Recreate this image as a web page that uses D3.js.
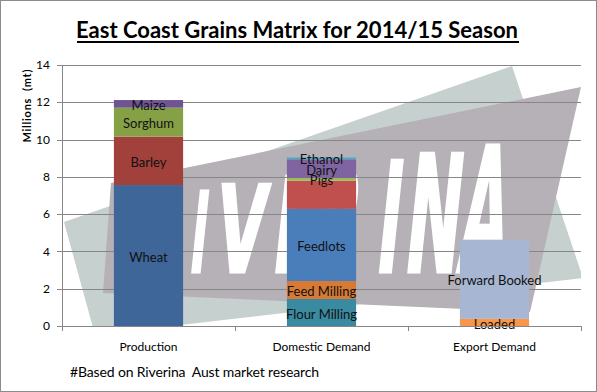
<!DOCTYPE html>
<html>
<head>
<meta charset="utf-8">
<script src="https://cdn.jsdelivr.net/npm/d3@7"></script>
<style>
  body { margin: 0; background: #fff; }
  text { font-family: Lato, 'Open Sans', sans-serif; }
</style>
</head>
<body>
<div id="chart"></div>
<script>
// Categories and stacked segments (Millions mt)
const categories = ['Production', 'Domestic Demand', 'Export Demand'];

const productionNames = ['Wheat', 'Barley', 'Sorghum', 'Maize'];
const productionValues = [7.56, 2.6, 1.55, 0.41];
const productionColors = ['#3F6699', '#A2403C', '#86A046', '#6E5491'];

const domesticNames = ['Flour Milling', 'Feed Milling', 'Feedlots', 'Poultry', 'Pigs', 'Dairy', 'Ethanol'];
const domesticLabels = ['Flour Milling', 'Feed Milling', 'Feedlots', '', 'Pigs', 'Dairy', 'Ethanol'];
const domesticValues = [1.45, 0.96, 3.87, 1.52, 0.14, 1.0, 0.1];
const domesticColors = ['#3A8AA2', '#D87A34', '#4A7EBB', '#C0504D', '#9BBB59', '#8064A2', '#4BACC6'];

const exportNames = ['Loaded', 'Forward Booked'];
const exportValues = [0.38, 4.25];
const exportColors = ['#F89748', '#A7B6D3'];

const yTicks = [0, 2, 4, 6, 8, 10, 12, 14];

const width = 597;
const height = 392;
const plot = { left: 62, right: 581, top: 65, bottom: 326 };

const svg = d3.select('#chart')
  .append('svg')
  .attr('width', width)
  .attr('height', height);

// outer frame
svg.append('rect')
  .attr('x', 0.5).attr('y', 0.5)
  .attr('width', width - 1).attr('height', height - 1)
  .attr('fill', '#fff')
  .attr('stroke', '#8c8c8c');

const xScale = d3.scaleBand()
  .domain(categories)
  .range([plot.left, plot.right])
  .paddingInner(0.6)
  .paddingOuter(0.3);

const yScale = d3.scaleLinear().domain([0, 14]).range([plot.bottom, plot.top]);

// --- background watermark (picture fill of the plot area) ---
svg.append('clipPath').attr('id', 'plotClip')
  .append('rect')
  .attr('x', plot.left).attr('y', plot.top)
  .attr('width', plot.right - plot.left).attr('height', plot.bottom - plot.top);

const wm = svg.append('g').attr('clip-path', 'url(#plotClip)');

wm.append('polygon')
  .attr('points', [[64, 222], [512, 66], [583, 278], [95, 335]].join(' '))
  .attr('fill', '#C6D0CE');

wm.append('polygon')
  .attr('points', [[111, 183], [581, 87], [530, 312], [103, 293]].join(' '))
  .attr('fill', '#B5B1B6');

const letters = [
  { ch: 'R', x0: 138, x1: 180 },
  { ch: 'I', x0: 188, x1: 204 },
  { ch: 'V', x0: 213, x1: 262 },
  { ch: 'E', x0: 271, x1: 308 },
  { ch: 'R', x0: 315, x1: 355 },
  { ch: 'I', x0: 374, x1: 397 },
  { ch: 'N', x0: 402, x1: 457 },
  { ch: 'A', x0: 456, x1: 503 },
];
const letterBase = 272;

wm.selectAll('text.wm')
  .data(letters)
  .join('text')
  .attr('class', 'wm')
  .attr('transform', (d) => {
    const xc = (d.x0 + d.x1) / 2;
    return `translate(${xc},${letterBase}) skewX(-6)`;
  })
  .attr('text-anchor', 'middle')
  .attr('font-weight', 'bold')
  .attr('font-size', (d) => {
    const xc = (d.x0 + d.x1) / 2;
    const h = 80 + (xc - 196) * 0.16;
    return h / 0.72;
  })
  .attr('textLength', (d) => d.x1 - d.x0)
  .attr('lengthAdjust', 'spacingAndGlyphs')
  .attr('fill', '#fff')
  .attr('stroke', '#fff')
  .attr('stroke-width', 3)
  .attr('stroke-linejoin', 'miter')
  .style('font-family', "'Liberation Sans Narrow', 'DejaVu Sans Condensed', sans-serif")
  .text((d) => d.ch);

// --- gridlines ---
svg.append('g')
  .selectAll('line')
  .data(yTicks.filter((d) => d > 0))
  .join('line')
  .attr('x1', plot.left).attr('x2', plot.right)
  .attr('y1', (d) => Math.round(yScale(d)) + 0.5)
  .attr('y2', (d) => Math.round(yScale(d)) + 0.5)
  .attr('stroke', '#868686');

// --- stacked bars ---
const groups = [
  { cat: categories[0], names: productionNames, labels: productionNames, values: productionValues, colors: productionColors },
  { cat: categories[1], names: domesticNames, labels: domesticLabels, values: domesticValues, colors: domesticColors },
  { cat: categories[2], names: exportNames, labels: exportNames, values: exportValues, colors: exportColors },
];

groups.forEach((g) => {
  const cum = d3.cumsum(g.values);
  const segs = g.values.map((v, i) => ({
    name: g.names[i],
    label: g.labels[i],
    y0: cum[i] - v,
    y1: cum[i],
    color: g.colors[i],
  }));

  const bar = svg.append('g').attr('class', 'bar');
  bar.selectAll('rect')
    .data(segs)
    .join('rect')
    .attr('x', xScale(g.cat))
    .attr('width', xScale.bandwidth())
    .attr('y', (d) => yScale(d.y1))
    .attr('height', (d) => yScale(d.y0) - yScale(d.y1))
    .attr('fill', (d) => d.color);

  bar.selectAll('text')
    .data(segs.filter((d) => d.label))
    .join('text')
    .attr('x', xScale(g.cat) + xScale.bandwidth() / 2)
    .attr('y', (d) => yScale((d.y0 + d.y1) / 2) + 1.5)
    .attr('dy', '0.35em')
    .attr('text-anchor', 'middle')
    .attr('font-size', 13)
    .attr('fill', '#111')
    .text((d) => d.label);
});

// --- axes ---
const yAxis = svg.append('g');
yAxis.append('line')
  .attr('x1', plot.left + 0.5).attr('x2', plot.left + 0.5)
  .attr('y1', plot.top).attr('y2', plot.bottom)
  .attr('stroke', '#868686');
yAxis.selectAll('line.tick')
  .data(yTicks)
  .join('line')
  .attr('class', 'tick')
  .attr('x1', plot.left - 5).attr('x2', plot.left)
  .attr('y1', (d) => Math.round(yScale(d)) + 0.5)
  .attr('y2', (d) => Math.round(yScale(d)) + 0.5)
  .attr('stroke', '#868686');
yAxis.selectAll('text')
  .data(yTicks)
  .join('text')
  .attr('x', 50)
  .attr('y', (d) => yScale(d))
  .attr('dy', '0.35em')
  .attr('text-anchor', 'end')
  .attr('font-size', 12)
  .attr('fill', '#000')
  .text((d) => d);

const xAxis = svg.append('g');
xAxis.append('line')
  .attr('x1', plot.left).attr('x2', plot.right + 1)
  .attr('y1', plot.bottom + 0.5).attr('y2', plot.bottom + 0.5)
  .attr('stroke', '#868686');
const bounds = [plot.left, ...categories.map((c) => xScale(c) - xScale.step() * 0.3 + xScale.step())];
xAxis.selectAll('line.tick')
  .data(bounds)
  .join('line')
  .attr('class', 'tick')
  .attr('x1', (d) => Math.round(d) + 0.5).attr('x2', (d) => Math.round(d) + 0.5)
  .attr('y1', plot.bottom).attr('y2', plot.bottom + 5)
  .attr('stroke', '#868686');
xAxis.selectAll('text')
  .data(categories)
  .join('text')
  .attr('x', (d) => xScale(d) + xScale.bandwidth() / 2)
  .attr('y', 347)
  .attr('dy', '0.35em')
  .attr('text-anchor', 'middle')
  .attr('font-size', 12)
  .attr('fill', '#000')
  .text((d) => d);

// y axis title
svg.append('text')
  .attr('transform', 'translate(27,106) rotate(-90)')
  .attr('dy', '0.35em')
  .attr('text-anchor', 'middle')
  .attr('font-size', 11)
  .attr('font-weight', 'bold')
  .attr('textLength', 73)
  .attr('fill', '#000')
  .style('white-space', 'pre')
  .text('Millions  (mt)');

// title
svg.append('text')
  .attr('x', 297)
  .attr('y', 38)
  .attr('text-anchor', 'middle')
  .attr('font-size', 23)
  .attr('font-weight', 'bold')
  .attr('textLength', 442)
  .attr('lengthAdjust', 'spacingAndGlyphs')
  .attr('fill', '#000')
  .text('East Coast Grains Matrix for 2014/15 Season');
svg.append('rect')
  .attr('x', 77).attr('y', 41)
  .attr('width', 442).attr('height', 2)
  .attr('fill', '#000');

// footnote
svg.append('text')
  .attr('x', 70)
  .attr('y', 372)
  .attr('dy', '0.35em')
  .attr('font-size', 14)
  .attr('textLength', 249)
  .attr('fill', '#000')
  .style('white-space', 'pre')
  .text('#Based on Riverina  Aust market research');
</script>
</body>
</html>
